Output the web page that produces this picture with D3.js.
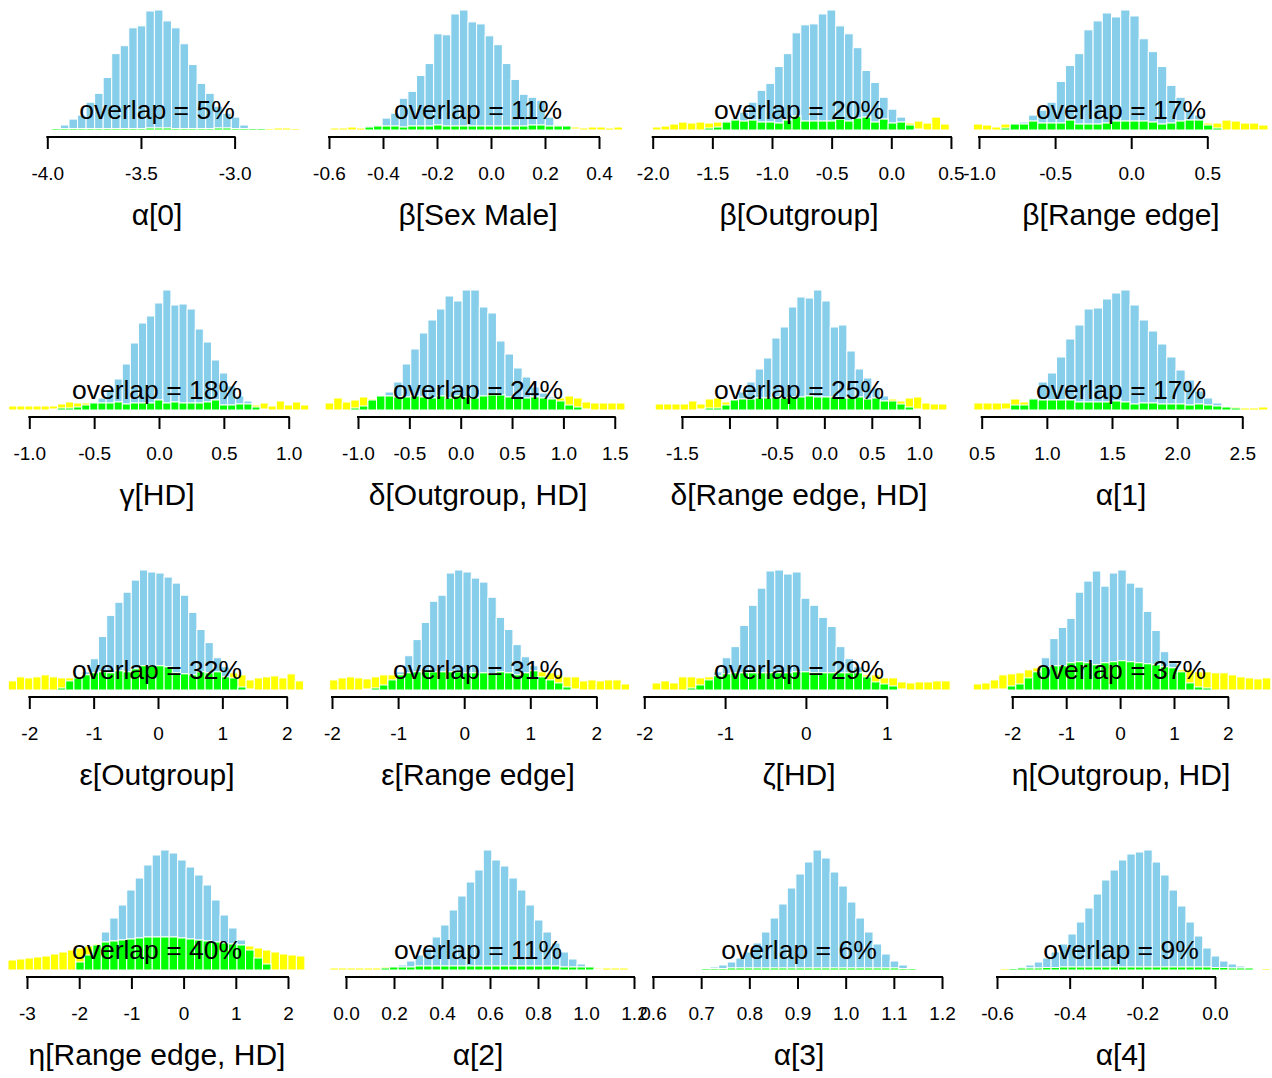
<!DOCTYPE html>
<html><head><meta charset="utf-8">
<script src="https://cdn.jsdelivr.net/npm/d3@7"></script>
<style>body{margin:0;background:#fff}</style>
</head><body>
<svg id="chart" width="1272" height="1078"></svg>
<script>
const titles = ["α[0]", "β[Sex Male]", "β[Outgroup]", "β[Range edge]",
  "γ[HD]", "δ[Outgroup, HD]", "δ[Range edge, HD]", "α[1]",
  "ε[Outgroup]", "ε[Range edge]", "ζ[HD]", "η[Outgroup, HD]",
  "η[Range edge, HD]", "α[2]", "α[3]", "α[4]"];
const overlapPct = [5, 11, 20, 17, 18, 24, 25, 17, 32, 31, 29, 37, 40, 11, 6, 9];
const tickValues = [
  [-4.0, -3.5, -3.0], [-0.6, -0.4, -0.2, 0.0, 0.2, 0.4], [-2.0, -1.5, -1.0, -0.5, 0.0, 0.5], [-1.0, -0.5, 0.0, 0.5],
  [-1.0, -0.5, 0.0, 0.5, 1.0], [-1.0, -0.5, 0.0, 0.5, 1.0, 1.5], [-1.5, -1.0, -0.5, 0.0, 0.5, 1.0], [0.5, 1.0, 1.5, 2.0, 2.5],
  [-2, -1, 0, 1, 2], [-2, -1, 0, 1, 2], [-2, -1, 0, 1], [-2, -1, 0, 1, 2],
  [-3, -2, -1, 0, 1, 2], [0.0, 0.2, 0.4, 0.6, 0.8, 1.0, 1.2], [0.6, 0.7, 0.8, 0.9, 1.0, 1.1, 1.2], [-0.6, -0.4, -0.2, 0.0]];
const tickLabels = [
  ["-4.0", "-3.5", "-3.0"], ["-0.6", "-0.4", "-0.2", "0.0", "0.2", "0.4"], ["-2.0", "-1.5", "-1.0", "-0.5", "0.0", "0.5"], ["-1.0", "-0.5", "0.0", "0.5"],
  ["-1.0", "-0.5", "0.0", "0.5", "1.0"], ["-1.0", "-0.5", "0.0", "0.5", "1.0", "1.5"], ["-1.5", "", "-0.5", "0.0", "0.5", "1.0"], ["0.5", "1.0", "1.5", "2.0", "2.5"],
  ["-2", "-1", "0", "1", "2"], ["-2", "-1", "0", "1", "2"], ["-2", "-1", "0", "1"], ["-2", "-1", "0", "1", "2"],
  ["-3", "-2", "-1", "0", "1", "2"], ["0.0", "0.2", "0.4", "0.6", "0.8", "1.0", "1.2"], ["0.6", "0.7", "0.8", "0.9", "1.0", "1.1", "1.2"], ["-0.6", "-0.4", "-0.2", "0.0"]];
const xLimits = [
  [-4.2152, -2.6135], [-0.6037, 0.5074], [-2.031, 0.4837], [-1.0526, 0.9185],
  [-1.1719, 1.1411], [-1.2921, 1.629], [-1.8477, 1.3135], [0.4179, 2.7203],
  [-2.3465, 2.3155], [-2.0605, 2.4781], [-1.9418, 1.7711], [-2.7662, 2.7997],
  [-3.3831, 2.364], [-0.075, 1.175], [0.5917, 1.2145], [-0.6716, 0.1542]];
const binStart = [-4.021, -0.594, -2.003, -1.037, -1.158, -1.32, -1.782, 0.44,
  -2.326, -2.035, -1.904, -2.724, -3.364, -0.067, 0.594, -0.66];
const binWidth = [0.0456, 0.0318, 0.0732, 0.0605, 0.0625, 0.0834, 0.0878, 0.0705,
  0.1274, 0.126, 0.1085, 0.1577, 0.1625, 0.0355, 0.0178, 0.0232];
const posterior = [
  [1,2,5,11,15,28,37,53,77,85,103,105,120,121,110,103,87,66,47,37,24,17,13,5,2,1.5,0,0,0,0],
  [0,0,0,0,4,5,12,17,32,39,55,67,97,96,117,121,109,107,95,86,67,51,36,33,30,13,5,4,1,0,0,0,0,0],
  [0,0,0,0,0,0,2,3,9,12,18,28,40,47,64,77,98,106,107,117,121,105,97,83,60,48,33,21,13,5,1,0,0,0],
  [0,0,0,2,6,8,15,20,28,49,65,77,101,110,118,114,121,115,92,79,64,45,33,20,15,5,2,0,0,0,0,0],
  [0,0,0,0,0,1,2,2,3,5,8,12,20,31,46,67,87,94,107,120,105,106,101,81,68,50,37,24,14,9,3,1,0,0,0,0,0],
  [0,0,0,2,4,10,14,18,28,46,61,77,90,101,114,109,120,120,103,97,69,56,42,33,23,17,13,9,5,3,1,0,0,0,0],
  [0,0,0,0,0,1,2,2,5,10,18,28,41,52,72,83,103,113,112,120,109,83,85,59,41,32,22,14,9,6,3,1,0,0,0],
  [0,0,0,1,5,5,12,28,37,53,71,85,101,102,111,117,120,105,90,79,66,53,40,30,19,12,7,3,2,0,0,0],
  [0,0,0,0,0,0,2,9,12,18,31,53,74,87,97,109,119,117,116,112,106,94,77,60,47,32,23,12,3,1,0,0,0,0,0,0],
  [0,0,0,0,1,2,5,10,18,34,50,67,88,94,116,119,117,111,107,92,72,60,45,33,24,13,10,7,3,1,0,0,0,0,0,0],
  [0,0,0,0,2,5,10,18,32,43,64,84,101,118,119,115,117,91,84,72,63,43,31,23,13,8,6,4,1,0,0,0,0,0],
  [0,0,1,1,4,6,12,18,32,51,62,71,97,108,118,103,116,119,106,102,78,59,38,27,18,7,3,2,0,0,0,0,0,0,0],
  [0,0,0,0,0,0,0,0,8,15,25,38,52,65,80,92,105,115,120,117,110,103,95,85,70,55,42,30,20,12,6,0,0,0,0],
  [0,0,0,0,0,0,2,3,5,9,15,22,33,45,60,74,88,100,120,110,104,92,80,65,50,38,27,18,11,6,3,1,0,0,0],
  [0,0,0,0,0,0,2,3,5,8,12,18,27,38,52,66,82,96,108,120,112,98,84,68,52,38,26,16,9,5,2,0,0,0,0],
  [0,0,0,0,2,3,5,8,12,18,26,36,48,62,76,90,100,110,116,118,120,108,95,80,64,48,34,22,14,9,6,4,2,1,0]];
const prior = [
  [1.5,1.5,1.5,1.5,1.5,1.5,1.5,1.5,1.5,1.5,1.5,1.5,2,2,2,1.5,1.5,1.5,1.5,1.5,2,2,1.5,1.5,1.5,1.5,1.5,2,2,1.5],
  [2,2,3,2,3,4,4,4,3,4,4,4,5,4,4,4,4,4,4,4,4,4,4,5,5,4,4,4,3,2,3,3,2,3],
  [3,4,6,8,7,8,7,8,8,10,9,10,8,8,7,10,14,9,9,9,9,11,9,12,13,8,11,7,8,7,9,7,13,6],
  [6,5,3,6,6,6,9,7,7,7,10,6,6,6,7,9,9,9,9,8,6,7,9,10,10,7,7,10,9,7,7,5],
  [4,4,4,4,4,4,6,8,7,7,7,7,7,8,6,7,7,7,10,7,8,7,7,7,8,10,5,5,6,6,5,7,4,9,5,8,5],
  [7,12,8,10,13,11,14,14,13,13,14,13,12,14,12,14,13,12,14,15,15,13,12,12,13,12,11,12,14,12,8,7,7,7,7],
  [6,6,6,6,9,6,11,12,8,10,11,11,12,12,13,12,13,13,14,13,13,13,12,12,13,11,12,9,11,9,12,13,7,6,6],
  [7,7,7,7,11,8,11,10,10,10,10,8,8,8,8,9,8,6,7,7,6,6,6,5,6,5,4,3,3,2,2,3],
  [9,13,12,13,15,13,12,12,13,15,17,18,17,19,18,21,24,24,24,23,17,16,15,18,17,18,13,17,15,10,12,13,14,12,16,9],
  [10,12,13,12,11,13,15,15,15,17,18,18,18,18,18,18,17,17,17,16,18,17,15,17,19,18,17,15,13,13,9,10,9,10,10,6],
  [7,9,7,13,13,12,13,14,16,17,17,17,17,17,17,17,18,18,17,17,17,17,17,17,15,15,12,12,8,7,8,8,9,9],
  [6,7,10,15,16,17,20,22,23,24,24,27,28,27,25,27,28,29,28,27,26,25,23,22,20,20,18,18,17,17,15,13,12,11,12],
  [10,11,12,13,14,16,18,20,22,24,26,28,29,30,31,32,33,33,33,33,32,31,30,29,28,27,26,25,24,22,20,18,16,15,14],
  [2,2,2,2,2,2,3,3,3,3,4,4,4,4,4,4,4,4,4,4,4,4,4,4,4,4,4,3,3,3,3,2,2,2,2],
  [1,1,1,1,1,1,1.5,1.5,1.5,2,2,2,2,2,2,2,2,2,2,2,2,2,2,2,2,2,2,2,2,1.5,1.5,1,1,1,1],
  [1,1,1,1.5,1.5,2,2,2,2.5,2.5,3,3,3,3,3,3,3,3,3,3,3,3,3,3,3,3,3,3,2.5,2.5,2,2,2,1.5,1.5]];

const svg = d3.select("#chart");
const font = "'Liberation Sans', Arial, Helvetica, sans-serif";
const colCenter = [157, 478, 799, 1121];
const rowTop = [0, 280, 560, 840];
const halfW = 150, barBase = 130, barHeight = 120, axisY = 137, tickLen = 12;

titles.forEach((title, i) => {
  const c = i % 4, r = Math.floor(i / 4);
  const cx = colCenter[c], y0 = rowTop[r];
  const x = d3.scaleLinear().domain(xLimits[i]).range([cx - halfW, cx + halfW]);
  const y = d3.scaleLinear().domain([0, d3.max(posterior[i])]).range([y0 + barBase, y0 + barBase - barHeight]);
  const bins = posterior[i].map((p, k) => ({
    x0: binStart[i] + k * binWidth[i],
    x1: binStart[i] + (k + 1) * binWidth[i],
    post: p, prior: prior[i][k], over: Math.min(p, prior[i][k])
  }));
  const g = svg.append("g");
  const layer = (key, color) => g.append("g")
    .selectAll("rect").data(bins.filter(b => b[key] > 0)).join("rect")
    .attr("x", b => x(b.x0)).attr("width", b => x(b.x1) - x(b.x0))
    .attr("y", b => y(b[key])).attr("height", b => y(0) - y(b[key]))
    .attr("fill", color).attr("stroke", "#ffffff").attr("stroke-width", 1);
  layer("post", "#87CEEB");
  layer("prior", "#FFFF00");
  layer("over", "#00FF00");

  const ticks = tickValues[i];
  const ax = g.append("g").attr("transform", `translate(0,${y0 + axisY})`)
    .call(d3.axisBottom(x).tickValues(ticks).tickFormat((d, j) => tickLabels[i][j]).tickSize(tickLen));
  ax.select(".domain").remove();
  ax.selectAll(".tick line").attr("stroke", "#000").attr("stroke-width", 2);
  ax.selectAll(".tick text").attr("y", 43).attr("dy", null)
    .attr("font-family", font).attr("font-size", 19).attr("fill", "#000");
  ax.append("line").attr("x1", x(ticks[0]) - 1).attr("x2", x(ticks[ticks.length - 1]) + 1)
    .attr("y1", 0).attr("y2", 0).attr("stroke", "#000").attr("stroke-width", 2);

  g.append("text").attr("x", cx).attr("y", y0 + 119).attr("text-anchor", "middle")
    .attr("font-family", font).attr("font-size", 26.5).attr("fill", "#000")
    .text(`overlap = ${overlapPct[i]}%`);
  g.append("text").attr("x", cx).attr("y", y0 + 225).attr("text-anchor", "middle")
    .attr("font-family", font).attr("font-size", 30).attr("fill", "#000")
    .text(title);
});
</script>
</body></html>
